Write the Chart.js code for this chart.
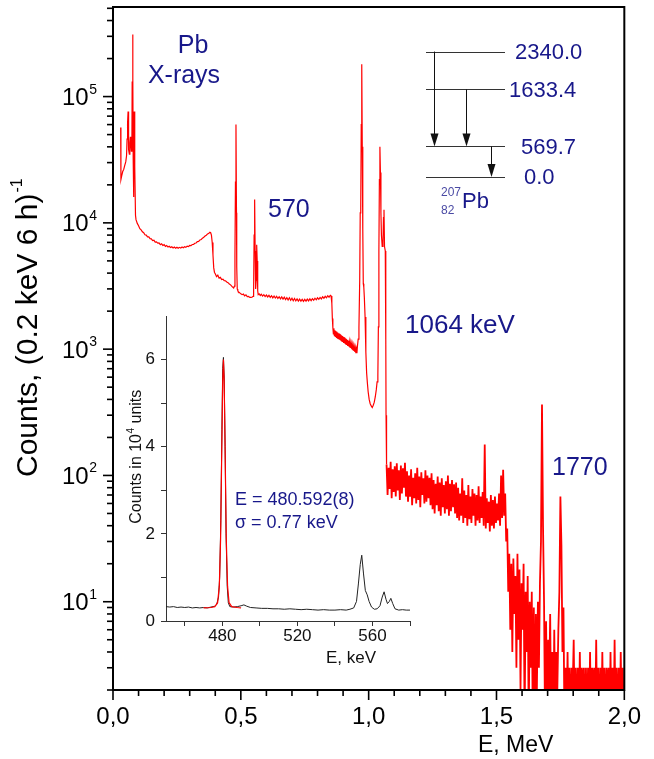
<!DOCTYPE html>
<html>
<head>
<meta charset="utf-8">
<script src="https://cdn.jsdelivr.net/npm/chart.js@4.4.1/dist/chart.umd.min.js"></script>
<style>
  html, body { margin: 0; padding: 0; background: #fff; }
  #wrap { position: relative; width: 654px; height: 759px; }
  #wrap canvas { position: absolute; left: 0; top: 0; }
</style>
</head>
<body>
<div id="wrap">
  <canvas id="mainChart" width="654" height="759"></canvas>
  <canvas id="insetChart" width="654" height="759"></canvas>
</div>
<script>
// main spectrum below 1.07 MeV: [E (MeV), counts per 0.2 keV per 6 h]
var headSpectrum = [
  [0.030, 57000], [0.031, 22000], [0.034, 23500], [0.038, 25500], [0.042, 26500],
  [0.046, 28500], [0.050, 30500], [0.053, 34000], [0.055, 46000], [0.057, 62000],
  [0.059, 76000], [0.060, 50000], [0.062, 38000], [0.064, 35000], [0.066, 43000],
  [0.068, 48000], [0.070, 41000], [0.072, 37000], [0.074, 46000], [0.075, 130000],
  [0.077, 310000], [0.078, 140000], [0.079, 32000], [0.080, 16000], [0.081, 18000],
  [0.082, 62000], [0.083, 76000], [0.084, 52000], [0.085, 43000], [0.086, 28000],
  [0.088, 11500], [0.090, 10600], [0.095, 9900], [0.100, 9500], [0.105, 9000],
  [0.110, 8800], [0.115, 8500], [0.120, 8350], [0.125, 8050], [0.130, 8000],
  [0.135, 7750], [0.140, 7750], [0.145, 7500], [0.150, 7480], [0.155, 7250],
  [0.160, 7280], [0.165, 7050], [0.170, 7080], [0.175, 6900], [0.180, 6930],
  [0.185, 6720], [0.190, 6820], [0.195, 6620], [0.200, 6720], [0.205, 6520],
  [0.210, 6620], [0.215, 6430], [0.220, 6520], [0.225, 6380], [0.230, 6470],
  [0.235, 6330], [0.240, 6440], [0.245, 6310], [0.250, 6420], [0.255, 6300],
  [0.260, 6400], [0.265, 6310], [0.270, 6440], [0.275, 6360], [0.280, 6470],
  [0.285, 6400], [0.290, 6540], [0.295, 6480], [0.300, 6620], [0.305, 6600],
  [0.310, 6740], [0.315, 6740], [0.320, 6900], [0.325, 6930], [0.330, 7100],
  [0.335, 7130], [0.340, 7320], [0.345, 7380], [0.350, 7570], [0.355, 7680],
  [0.360, 7870], [0.365, 7980], [0.370, 8170], [0.375, 8280], [0.379, 8420],
  [0.382, 8350], [0.385, 8000], [0.388, 7000], [0.391, 5600], [0.394, 4400],
  [0.397, 4050], [0.400, 3950], [0.405, 3750], [0.410, 3850], [0.415, 3650],
  [0.420, 3700], [0.425, 3560], [0.430, 3580], [0.435, 3480], [0.440, 3480],
  [0.445, 3400], [0.450, 3360], [0.455, 3280], [0.460, 3230], [0.465, 3140],
  [0.469, 3090], [0.472, 3050], [0.475, 3150], [0.477, 5500], [0.479, 21000],
  [0.481, 60000], [0.483, 12000], [0.484, 4500], [0.486, 3000], [0.488, 2920],
  [0.490, 2850], [0.495, 2800], [0.500, 2740], [0.505, 2700], [0.510, 2730],
  [0.515, 2640], [0.520, 2690], [0.525, 2610], [0.530, 2620], [0.535, 2570],
  [0.540, 2570], [0.545, 2590], [0.548, 2620], [0.550, 2900], [0.552, 8000],
  [0.554, 15300], [0.556, 6000], [0.558, 3000], [0.560, 3500], [0.562, 6700],
  [0.564, 5000], [0.566, 2900], [0.568, 2700], [0.572, 2740], [0.576, 2660],
  [0.580, 2720], [0.585, 2630], [0.590, 2700], [0.595, 2610], [0.600, 2680],
  [0.605, 2590], [0.610, 2670], [0.615, 2570], [0.620, 2650], [0.625, 2550],
  [0.630, 2630], [0.635, 2540], [0.640, 2620], [0.645, 2520], [0.650, 2600],
  [0.655, 2500], [0.660, 2590], [0.665, 2490], [0.670, 2580], [0.675, 2470],
  [0.680, 2560], [0.685, 2450], [0.690, 2550], [0.695, 2440], [0.700, 2530],
  [0.705, 2420], [0.710, 2520], [0.715, 2410], [0.720, 2500], [0.725, 2400],
  [0.730, 2490], [0.735, 2400], [0.740, 2480], [0.745, 2390], [0.750, 2480],
  [0.755, 2400], [0.760, 2490], [0.765, 2410], [0.770, 2500], [0.775, 2420],
  [0.780, 2510], [0.785, 2440], [0.790, 2530], [0.795, 2460], [0.800, 2550],
  [0.805, 2480], [0.810, 2570], [0.815, 2500], [0.820, 2600], [0.825, 2530],
  [0.830, 2620], [0.835, 2550], [0.840, 2650], [0.845, 2580], [0.850, 2670],
  [0.853, 2640], [0.856, 2300], [0.858, 1750],
  [0.860, 1480], [0.862, 1320], [0.864, 1460], [0.866, 1280], [0.868, 1410],
  [0.870, 1260], [0.872, 1390], [0.874, 1240], [0.876, 1370], [0.878, 1220],
  [0.880, 1350], [0.882, 1200], [0.884, 1330], [0.886, 1190], [0.888, 1310],
  [0.890, 1170], [0.892, 1290], [0.894, 1150], [0.896, 1270], [0.898, 1140],
  [0.900, 1250], [0.902, 1120], [0.904, 1240], [0.906, 1110], [0.908, 1220],
  [0.910, 1090], [0.912, 1200], [0.914, 1080], [0.916, 1180], [0.918, 1060],
  [0.920, 1160], [0.922, 1050], [0.924, 1140], [0.926, 1030], [0.928, 1120],
  [0.930, 1020], [0.932, 1100], [0.934, 1000], [0.936, 1080], [0.938, 980],
  [0.940, 1060], [0.942, 970], [0.944, 1040], [0.946, 950], [0.948, 1020],
  [0.950, 930], [0.952, 1000], [0.954, 930], [0.956, 1050], [0.959, 1200],
  [0.962, 1500], [0.965, 3500], [0.967, 12000], [0.969, 13000], [0.971, 60000],
  [0.973, 180000], [0.975, 40000], [0.977, 9000], [0.979, 3300], [0.981, 3100],
  [0.983, 2600], [0.986, 1800], [0.989, 950], [0.992, 650], [0.995, 540],
  [0.998, 460], [1.002, 400], [1.006, 370], [1.010, 355], [1.014, 345],
  [1.018, 360], [1.022, 380], [1.026, 420], [1.030, 480], [1.033, 550],
  [1.036, 620], [1.038, 1500], [1.040, 6000], [1.042, 22000], [1.044, 40000],
  [1.046, 25000], [1.048, 12000], [1.050, 8000], [1.053, 6500], [1.056, 7000],
  [1.058, 11000], [1.060, 12700], [1.062, 6500], [1.065, 6000], [1.067, 1200],
  [1.068, 300]
];

// noisy high-energy tail, one reading every 4 keV from 1.070 MeV
var tailStart = 1.070;
var tailStep = 0.004;
var tailCounts = [
  122, 70, 115, 78, 128, 66, 112, 74, 118, 68, 125, 76, 110, 64, 120, 72, 114, 80, 126, 68,
  108, 62, 100, 68, 112, 58, 96, 66, 104, 60, 115, 64, 98, 56, 106, 70, 95, 60, 110, 62, 100, 66, 96, 58, 104,
  54, 92, 50, 86, 58, 98, 52, 88, 48, 95, 56, 84, 50, 90, 54, 100, 48, 86, 52, 92, 56, 85, 50, 88, 46,
  80, 44, 72, 48, 95, 42, 76, 46, 70, 40, 84, 45, 68, 42, 78, 48, 72, 40, 70, 44, 82, 42, 68, 46, 74,
  40, 176, 38, 66, 42, 62, 36, 70, 40, 64, 38, 68, 42, 60, 44, 72, 40, 100, 46, 111,
  48, 72, 30, 38, 12,
  24, 6, 20, 4, 22, 8, 16, 3, 24, 5, 18, 2, 14, 6, 20, 1, 12, 4, 16, 1, 10, 3, 12, 1, 9,
  1, 8, 2, 10, 3, 14, 30, 364, 40, 10, 1, 7, 1, 5, 2, 8, 1, 4, 1, 6, 1, 4, 2, 6, 12,
  68, 28, 4, 9, 1, 3, 1, 4, 1, 3, 1, 3, 2, 5, 1, 3, 1, 3, 1, 4, 1, 3, 2, 3, 1,
  3, 1, 3, 1, 4, 1, 3, 2, 3, 1, 5, 1, 3, 1, 3, 1, 4, 1, 3, 1, 3, 2, 3, 1, 4, 1, 3, 1, 5, 1,
  3, 1, 3, 1, 4, 1, 3, 1
];

// inset: measured spectrum near 480 keV, [E (keV), counts in 1e4 units]
var insetData = [
  [450, 0.33], [452, 0.32], [454, 0.33], [456, 0.31], [458, 0.32], [460, 0.31], [462, 0.32],
  [464, 0.30], [466, 0.31], [468, 0.30], [470, 0.31], [472, 0.30], [474, 0.32], [476, 0.34],
  [477, 0.38], [478, 0.55], [478.6, 1.0], [479.2, 2.3], [479.8, 4.4], [480.2, 5.8], [480.6, 6.05],
  [481.0, 5.6], [481.5, 4.0], [482.0, 2.0], [482.6, 0.8], [483.2, 0.42], [484, 0.33], [486, 0.32],
  [488, 0.33], [490, 0.35], [491.5, 0.37], [493, 0.34], [495, 0.31], [498, 0.30], [501, 0.29],
  [504, 0.29], [507, 0.28], [510, 0.28], [513, 0.27], [516, 0.28], [519, 0.27], [522, 0.26],
  [525, 0.27], [528, 0.26], [531, 0.25], [534, 0.26], [537, 0.25], [540, 0.25], [543, 0.26],
  [546, 0.25], [548, 0.27], [550, 0.30], [551.5, 0.45], [552.5, 0.85], [553.5, 1.3], [554.3, 1.51],
  [555.2, 1.1], [556.2, 0.7], [557.2, 0.6], [558.2, 0.45], [559.5, 0.32], [561, 0.27], [562.5, 0.28],
  [564, 0.35], [565.2, 0.55], [566.2, 0.67], [567.2, 0.5], [568, 0.4], [569, 0.45], [569.8, 0.52],
  [570.8, 0.4], [572, 0.28], [574, 0.25], [576, 0.26], [578, 0.25], [580, 0.25]
];

// inset: fitted line shape of the 480.6 keV peak
var fitData = [
  [470, 0.30], [474, 0.31], [476, 0.33], [477.5, 0.42], [478.4, 0.8], [479.1, 1.9], [479.7, 3.9],
  [480.2, 5.5], [480.6, 6.0], [481.0, 5.5], [481.5, 3.9], [482.1, 1.9], [482.8, 0.8], [483.6, 0.42],
  [485, 0.33], [488, 0.31], [490, 0.30]
];

var xMajorTicks = [0, 0.5, 1.0, 1.5, 2.0];
var xTickLabels = ['0,0', '0,5', '1,0', '1,5', '2,0'];
var yDecades = [1, 2, 3, 4, 5];
var insetXTicks = [460, 480, 500, 520, 540, 560, 580];
var insetXLabels = [480, 520, 560];
var insetYTicks = [0, 1, 2, 3, 4, 5, 6];
var insetYLabels = [0, 2, 4, 6];

// level scheme of 207Pb (keV)
var levels = [2340.0, 1633.4, 569.7, 0.0];
var levelLabels = ['2340.0', '1633.4', '569.7', '0.0'];
var transitions = [[2340.0, 569.7], [1633.4, 569.7], [569.7, 0.0]];

var FONT = "'Liberation Sans', Arial, Helvetica, sans-serif";
var NAVY = '#18188a';

var spectrumPoints = headSpectrum.map(function (p) { return { x: p[0], y: p[1] }; });
tailCounts.forEach(function (c, i) {
  spectrumPoints.push({ x: Math.round((tailStart + i * tailStep) * 1000) / 1000, y: c });
});

function seg(ctx, x1, y1, x2, y2) {
  ctx.beginPath();
  ctx.moveTo(x1, y1);
  ctx.lineTo(x2, y2);
  ctx.stroke();
}

function text(ctx, str, x, y, size, color, align) {
  ctx.font = size + 'px ' + FONT;
  ctx.fillStyle = color;
  ctx.textAlign = align || 'left';
  ctx.textBaseline = 'alphabetic';
  ctx.fillText(str, x, y);
}

var mainDecor = {
  id: 'mainDecor',
  afterDraw: function (chart) {
    var ctx = chart.ctx, a = chart.chartArea, xs = chart.scales.x, ys = chart.scales.y;
    ctx.save();
    ctx.strokeStyle = '#000';
    ctx.lineWidth = 2;
    ctx.strokeRect(a.left, a.top, a.right - a.left, a.bottom - a.top);

    // tick marks
    ctx.lineWidth = 1.6;
    for (var k = 0; k <= 20; k++) {
      var px = xs.getPixelForValue(k / 10);
      seg(ctx, px, a.bottom, px, a.bottom + (k % 5 === 0 ? 10 : 6));
    }
    for (var n = 0; n <= 5; n++) {
      for (var m = 1; m <= 9; m++) {
        var v = m * Math.pow(10, n);
        if (v < ys.min || v > ys.max) continue;
        var py = ys.getPixelForValue(v);
        seg(ctx, a.left - (m === 1 ? 10 : 6), py, a.left, py);
      }
    }

    // y tick labels 10^n
    yDecades.forEach(function (n) {
      var py = ys.getPixelForValue(Math.pow(10, n));
      ctx.font = '14px ' + FONT;
      var sw = ctx.measureText(String(n)).width;
      var right = a.left - 16;
      text(ctx, String(n), right - sw, py - 3, 14, '#000', 'left');
      text(ctx, '10', right - sw - 0.5, py + 8.5, 24, '#000', 'right');
    });

    // axis titles
    ctx.save();
    ctx.translate(37, 477);
    ctx.rotate(-Math.PI / 2);
    var t = 'Counts, (0.2 keV 6 h)';
    text(ctx, t, 0, 0, 30, '#000', 'left');
    var tw = ctx.measureText(t).width;
    text(ctx, '-1', tw + 1, -15, 16, '#000', 'left');
    ctx.restore();
    text(ctx, 'E, MeV', 478, 752, 23, '#000', 'left');

    // peak annotations
    text(ctx, 'Pb', 193, 53, 25, NAVY, 'center');
    text(ctx, 'X-rays', 184, 83, 25, NAVY, 'center');
    text(ctx, '570', 268, 217, 25, NAVY, 'left');
    text(ctx, '1064 keV', 405, 333, 26, NAVY, 'left');
    text(ctx, '1770', 552, 475, 25, NAVY, 'left');

    // level scheme
    var levelY = function (e) { return 177 - e * 0.0536; };
    var labelX = [515, 509, 521, 524];
    var arrowX = [434, 466, 491];
    ctx.strokeStyle = '#333';
    ctx.lineWidth = 1;
    levels.forEach(function (e, i) {
      var y = Math.round(levelY(e)) + 0.5;
      seg(ctx, 426, y, 505, y);
      ctx.font = '22px ' + FONT;
      ctx.fillStyle = NAVY;
      ctx.textAlign = 'left';
      ctx.textBaseline = 'middle';
      ctx.fillText(levelLabels[i], labelX[i], levelY(e) + 1);
    });
    ctx.strokeStyle = '#111';
    ctx.fillStyle = '#111';
    transitions.forEach(function (tr, i) {
      var x = arrowX[i] + 0.5, y1 = levelY(tr[0]), y2 = levelY(tr[1]);
      seg(ctx, x, y1, x, y2 - 12);
      ctx.beginPath();
      ctx.moveTo(x - 4, y2 - 13);
      ctx.lineTo(x + 4, y2 - 13);
      ctx.lineTo(x, y2);
      ctx.closePath();
      ctx.fill();
    });
    text(ctx, '207', 441, 196, 12, '#4a4aa4', 'left');
    text(ctx, '82', 441, 214, 12, '#4a4aa4', 'left');
    text(ctx, 'Pb', 462, 208, 22, NAVY, 'left');
    ctx.restore();
  }
};

new Chart(document.getElementById('mainChart'), {
  type: 'line',
  data: {
    datasets: [{
      data: spectrumPoints,
      borderColor: '#ff0000',
      borderWidth: 1.2,
      pointRadius: 0,
      tension: 0,
      fill: false,
      segment: {
        // the dense noisy tail reads as a solid band
        borderWidth: function (c) { return c.p0.parsed.x >= tailStart ? 1.8 : 1.2; }
      }
    }]
  },
  options: {
    responsive: false,
    animation: false,
    events: [],
    layout: { padding: { top: 7, right: 28, left: 0, bottom: 0 } },
    plugins: { legend: { display: false }, tooltip: { enabled: false } },
    scales: {
      x: {
        type: 'linear',
        min: 0,
        max: 2,
        afterBuildTicks: function (scale) {
          scale.ticks = xMajorTicks.map(function (v) { return { value: v }; });
        },
        afterFit: function (scale) { scale.height = 69; },
        grid: { display: false, drawTicks: false },
        border: { display: false },
        ticks: {
          autoSkip: false,
          maxRotation: 0,
          padding: 13,
          color: '#000',
          font: { family: FONT, size: 24 },
          callback: function (value, i) { return xTickLabels[i]; }
        }
      },
      y: {
        type: 'logarithmic',
        min: 2,
        max: 512000,
        afterBuildTicks: function (scale) {
          scale.ticks = yDecades.map(function (n) { return { value: Math.pow(10, n) }; });
        },
        afterFit: function (scale) { scale.width = 113; },
        grid: { display: false, drawTicks: false },
        border: { display: false },
        ticks: { display: false }
      }
    }
  },
  plugins: [mainDecor]
});

var insetDecor = {
  id: 'insetDecor',
  afterDraw: function (chart) {
    var ctx = chart.ctx;
    ctx.save();
    ctx.translate(141, 457);
    ctx.rotate(-Math.PI / 2);
    ctx.font = '16px ' + FONT;
    var p1 = 'Counts in 10', p2 = ' units';
    var w1 = ctx.measureText(p1).width, w2 = ctx.measureText(p2).width;
    ctx.font = '10px ' + FONT;
    var ws = ctx.measureText('4').width;
    var start = -(w1 + ws + w2) / 2;
    text(ctx, p1, start, 0, 16, '#111', 'left');
    text(ctx, '4', start + w1 + 0.5, -7, 10, '#111', 'left');
    text(ctx, p2, start + w1 + ws + 0.5, 0, 16, '#111', 'left');
    ctx.restore();
    text(ctx, 'E, keV', 326, 663, 17, '#111', 'left');
    text(ctx, 'E = 480.592(8)', 235, 505, 18, NAVY, 'left');
    text(ctx, '\u03c3 = 0.77 keV', 235, 528, 18, NAVY, 'left');
  }
};

new Chart(document.getElementById('insetChart'), {
  type: 'line',
  data: {
    datasets: [{
      data: fitData.map(function (p) { return { x: p[0], y: p[1] }; }),
      borderColor: '#ff0000',
      borderWidth: 1.2,
      pointRadius: 0,
      tension: 0,
      fill: false
    }, {
      data: insetData.map(function (p) { return { x: p[0], y: p[1] }; }),
      borderColor: '#222',
      borderWidth: 1,
      pointRadius: 0,
      tension: 0,
      fill: false
    }]
  },
  options: {
    responsive: false,
    animation: false,
    events: [],
    layout: { padding: { top: 316, right: 244, left: 0, bottom: 0 } },
    plugins: { legend: { display: false }, tooltip: { enabled: false } },
    scales: {
      x: {
        type: 'linear',
        min: 450,
        max: 580,
        afterBuildTicks: function (scale) {
          scale.ticks = insetXTicks.map(function (v) { return { value: v }; });
        },
        afterFit: function (scale) { scale.height = 138; },
        grid: { drawOnChartArea: false, drawTicks: true, tickLength: 5, color: '#333', tickColor: '#333' },
        border: { display: true, color: '#333', width: 1 },
        ticks: {
          autoSkip: false,
          maxRotation: 0,
          padding: 0,
          color: '#111',
          font: { family: FONT, size: 17 },
          callback: function (value) { return insetXLabels.indexOf(value) >= 0 ? String(value) : ''; }
        }
      },
      y: {
        type: 'linear',
        min: 0,
        max: 7,
        afterBuildTicks: function (scale) {
          scale.ticks = insetYTicks.map(function (v) { return { value: v }; });
        },
        afterFit: function (scale) { scale.width = 166; },
        grid: { drawOnChartArea: false, drawTicks: true, tickLength: 5, color: '#333', tickColor: '#333' },
        border: { display: true, color: '#333', width: 1 },
        ticks: {
          padding: 6,
          color: '#111',
          font: { family: FONT, size: 17 },
          callback: function (value) { return insetYLabels.indexOf(value) >= 0 ? String(value) : ''; }
        }
      }
    }
  },
  plugins: [insetDecor]
});
</script>
</body>
</html>
